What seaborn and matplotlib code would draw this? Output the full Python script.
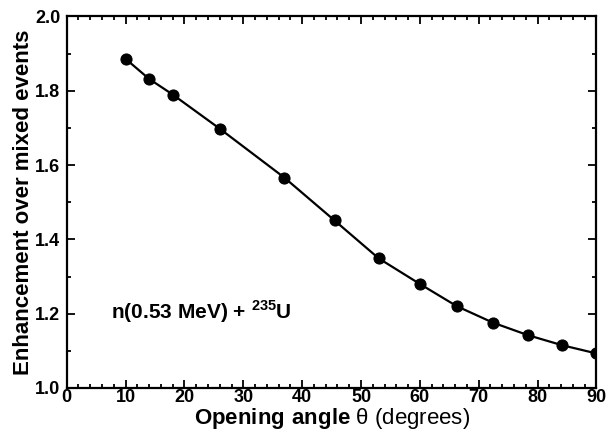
import numpy as np
import pandas as pd
import seaborn as sns
import matplotlib.pyplot as plt
from matplotlib.ticker import MultipleLocator

# values
angle = [10, 14, 18, 26, 37, 45.5, 53, 60, 66.3, 72.4, 78.4, 84.2, 90]
enhancement = [1.886, 1.832, 1.790, 1.698, 1.566, 1.451, 1.349, 1.280,
               1.220, 1.176, 1.142, 1.115, 1.093]
x_ticks = [0, 10, 20, 30, 40, 50, 60, 70, 80, 90]
y_ticks = [1.0, 1.2, 1.4, 1.6, 1.8, 2.0]

sns.set_style("ticks")
plt.rcParams['font.family'] = ['Liberation Sans', 'DejaVu Sans']
plt.rcParams['mathtext.fontset'] = 'custom'
plt.rcParams['mathtext.rm'] = 'Liberation Sans'
plt.rcParams['mathtext.bf'] = 'Liberation Sans:bold'
for key in ['text.color', 'axes.labelcolor', 'axes.edgecolor', 'xtick.color', 'ytick.color']:
    plt.rcParams[key] = 'black'

df = pd.DataFrame({"angle": angle, "enhancement": enhancement})

fig = plt.figure(figsize=(6.08, 4.34), dpi=100)
ax = fig.add_axes([0.1097, 0.106, 0.8713, 0.856])

sns.lineplot(data=df, x="angle", y="enhancement", ax=ax, color="black",
             linewidth=1.6, marker="o", markersize=8, markeredgecolor="black")

ax.set_xlim(0, 90)
ax.set_ylim(1.0, 2.0)
ax.set_xticks(x_ticks)
ax.set_yticks(y_ticks)
ax.xaxis.set_minor_locator(MultipleLocator(2))
ax.yaxis.set_minor_locator(MultipleLocator(0.1))
ax.set_yticklabels([f"{v:.1f}" for v in y_ticks])
ax.tick_params(which="both", direction="in", top=True, right=True, width=1.3)
ax.tick_params(which="major", length=6, labelsize=13)
ax.tick_params(axis="x", which="major", pad=1)
ax.tick_params(axis="y", which="major", pad=4.5)
ax.tick_params(which="minor", length=3)
for lab in ax.get_xticklabels() + ax.get_yticklabels():
    lab.set_fontweight("bold")
for sp in ax.spines.values():
    sp.set_linewidth(1.6)

ax.set_xlabel(r"$\mathbf{Opening\ angle}$ θ (degrees)", fontsize=16, labelpad=0)
ax.set_ylabel("Enhancement over mixed events", fontsize=16, fontweight="bold", labelpad=1)

ax.text(7.6, 1.205, r"n(0.53 MeV) + $^{\mathbf{235}}$U", fontsize=15,
        fontweight="bold", va="center", ha="left")

fig.savefig("out.png", dpi=100)
